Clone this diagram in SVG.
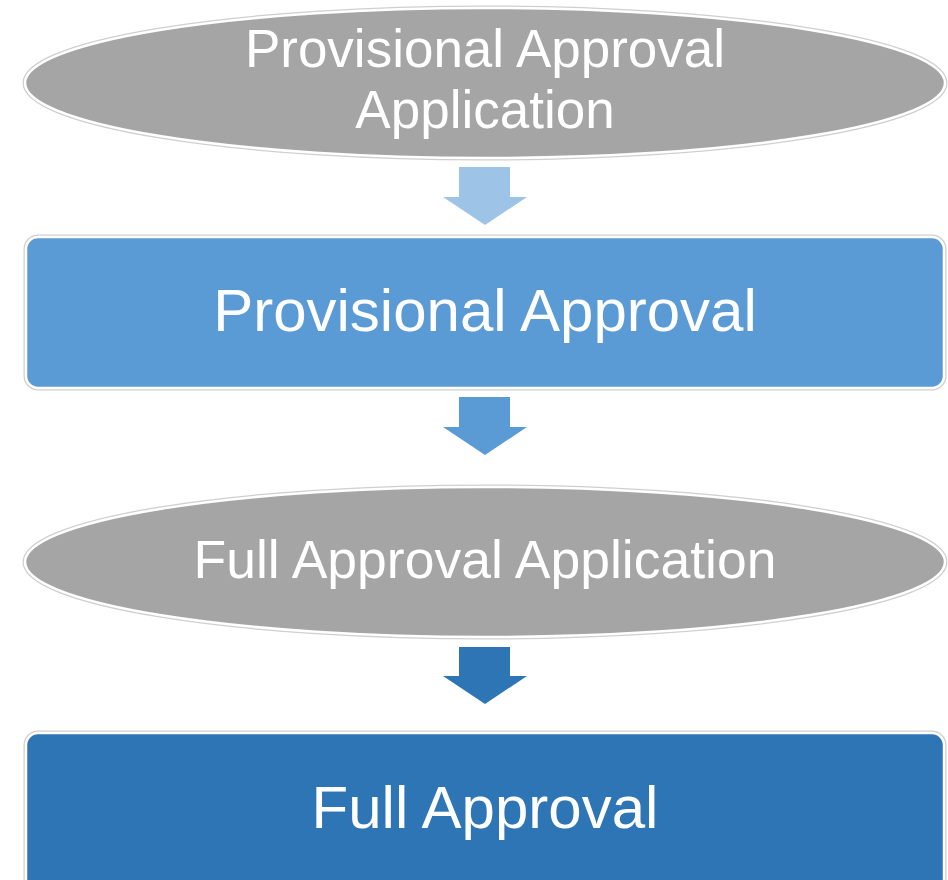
<svg xmlns="http://www.w3.org/2000/svg" width="948" height="880" viewBox="0 0 948 880">
<style>
.t{font-family:"Liberation Sans",Arial,sans-serif;fill:#fff;text-anchor:middle}
.edge{stroke:#cfcfcf;stroke-width:5}
.inner{stroke:#fff;stroke-width:2.5}
</style>
<rect width="948" height="880" fill="#fff"/>
<g id="connectors">
<polygon points="459,167 510,167 510,197 527,197 485,225 443,197 459,197" fill="#9DC3E6"/>
<polygon points="459,397 510,397 510,427 527,427 485,455 443,427 459,427" fill="#5B9BD5"/>
<polygon points="459,647 510,647 510,676 527,676 485,704 443,676 459,676" fill="#2E75B6"/>
</g>
<g id="n1">
<ellipse cx="485" cy="83" rx="460" ry="75" class="edge" fill="#A5A5A5"/>
<ellipse cx="485" cy="83" rx="460" ry="75" class="inner" fill="#A5A5A5"/>
<text class="t" x="485" y="67" font-size="53">Provisional Approval</text>
<text class="t" x="485" y="128" font-size="53">Application</text>
</g>
<g id="n2">
<rect x="26" y="237" width="918" height="151" rx="12" class="edge" fill="#5B9BD5"/>
<rect x="26" y="237" width="918" height="151" rx="12" class="inner" fill="#5B9BD5"/>
<text class="t" x="485" y="331" font-size="60">Provisional Approval</text>
</g>
<g id="n3">
<ellipse cx="485" cy="562" rx="460" ry="75" class="edge" fill="#A5A5A5"/>
<ellipse cx="485" cy="562" rx="460" ry="75" class="inner" fill="#A5A5A5"/>
<text class="t" x="485" y="578" font-size="53.5">Full Approval Application</text>
</g>
<g id="n4">
<rect x="26" y="733" width="918" height="160" rx="12" class="edge" fill="#2E75B6"/>
<rect x="26" y="733" width="918" height="160" rx="12" class="inner" fill="#2E75B6"/>
<text class="t" x="485" y="828" font-size="60">Full Approval</text>
</g>
</svg>
